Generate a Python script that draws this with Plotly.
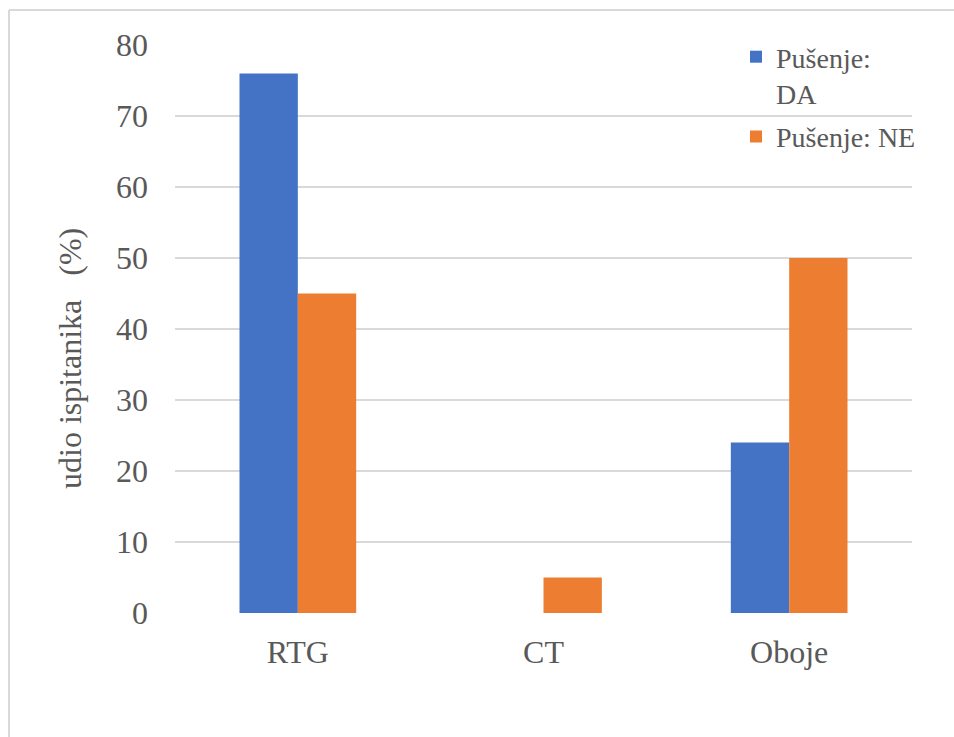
import plotly.graph_objects as go

categories = ["RTG", "CT", "Oboje"]
da_values = [76, 0, 24]
ne_values = [45, 5, 50]
series_names = ["Pušenje:<br>DA", "Pušenje: NE"]
y_title = "udio ispitanika\u00a0\u00a0\u00a0(%)"
y_ticks = [0, 10, 20, 30, 40, 50, 60, 70, 80]

FONT = "Liberation Serif"
GRAY = "#595959"

W, H = 954, 737
L, T = 175, 45
pw, ph = 737, 568
R, B = W - L - pw, H - T - ph

def px(xpix):
    return (xpix - L) / pw

def py(ypix):
    return (T + ph - ypix) / ph

fig = go.Figure()
fig.add_trace(go.Bar(x=categories, y=da_values, name=series_names[0],
                     legendgroup="da",
                     marker=dict(color="#4472C4", line=dict(width=0))))
fig.add_trace(go.Bar(x=categories, y=ne_values, name=series_names[1],
                     legendgroup="ne",
                     marker=dict(color="#ED7D31", line=dict(width=0))))

border = dict(color="#d9d9d9", width=2)
fig.update_layout(
    width=W, height=H,
    margin=dict(l=L, r=R, t=T, b=B, autoexpand=False),
    paper_bgcolor="white", plot_bgcolor="white",
    barmode="group", bargap=0.525, bargroupgap=0,
    font=dict(family=FONT, size=32, color=GRAY),
    showlegend=True,
    legend=dict(x=px(736), y=py(32), xanchor="left", yanchor="top",
                bgcolor="rgba(0,0,0,0)", font=dict(size=28, color=GRAY, family=FONT),
                itemsizing="constant", traceorder="grouped", tracegroupgap=4,
                valign="top"),
    xaxis=dict(showgrid=False, showline=False, zeroline=False,
               ticks="", ticklabelstandoff=17,
               tickfont=dict(size=32, color=GRAY, family=FONT)),
    yaxis=dict(range=[0, 80], tickvals=y_ticks, showgrid=True,
               gridcolor="#d9d9d9", gridwidth=2, zeroline=False,
               showline=False, ticks="", ticklabelstandoff=26,
               tickfont=dict(size=32, color=GRAY, family=FONT)),
    shapes=[
        dict(type="line", xref="paper", yref="paper",
             x0=px(9), x1=px(960), y0=py(10), y1=py(10), line=border, layer="below"),
        dict(type="line", xref="paper", yref="paper",
             x0=px(9), x1=px(9), y0=py(10), y1=py(745), line=border, layer="below"),
    ],
    annotations=[dict(text=y_title, xref="paper", yref="paper",
                      x=px(70), y=py(359), textangle=-90, showarrow=False,
                      font=dict(size=32, color=GRAY, family=FONT),
                      xanchor="center", yanchor="middle")],
)

fig.write_html("out.html", config={"displayModeBar": False},
               post_script="document.body.style.margin='0';document.body.style.overflow='hidden';")
